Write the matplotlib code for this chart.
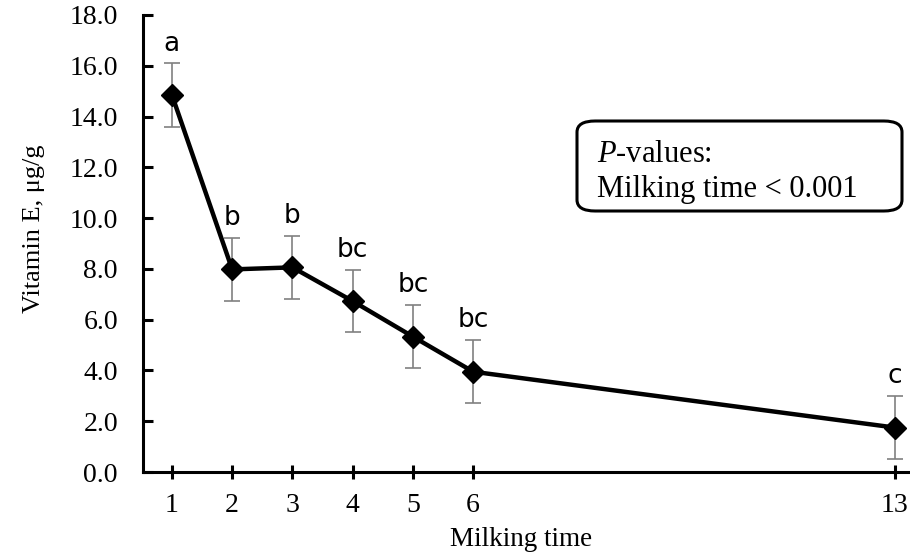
import matplotlib
matplotlib.use("Agg")
import matplotlib.pyplot as plt
from matplotlib.patches import FancyBboxPatch

milking_time = [1, 2, 3, 4, 5, 6, 13]
vitamin_e = [14.85, 7.98, 8.06, 6.73, 5.33, 3.95, 1.75]
se = [1.25, 1.24, 1.24, 1.23, 1.25, 1.25, 1.25]
letters = ["a", "b", "b", "bc", "bc", "bc", "c"]
y_ticks = [0, 2, 4, 6, 8, 10, 12, 14, 16, 18]

plt.rcParams['font.family'] = ['Liberation Serif', 'DejaVu Serif']
plt.rcParams['mathtext.fontset'] = 'custom'
plt.rcParams['mathtext.it'] = 'Liberation Serif:italic'
plt.rcParams['mathtext.rm'] = 'Liberation Serif'

fig = plt.figure(figsize=(9.10, 5.56), dpi=100)
ax = fig.add_axes([143/910, 84/556, (910-143)/910, (472-15)/556])

ax.errorbar(milking_time, vitamin_e, yerr=se, fmt='none', ecolor='#808080',
            elinewidth=1.2, capsize=6, capthick=1.2, zorder=2)
ax.plot(milking_time, vitamin_e, color='black', lw=3.2, marker='D',
        markersize=11, markerfacecolor='black', zorder=3)

for x, y, e, t in zip(milking_time, vitamin_e, se, letters):
    ax.text(x, y + e + 0.5, t, ha='center', va='baseline', fontsize=19,
            family=['DejaVu Sans'])

ax.set_xlim(0.52, 13.25)
ax.set_ylim(0, 18)
ax.set_xticks(milking_time)
ax.set_xticklabels([str(m) for m in milking_time])
ax.set_yticks(y_ticks)
ax.set_yticklabels([f"{v:.1f}" for v in y_ticks])

for s in ['top', 'right']:
    ax.spines[s].set_visible(False)
for s in ['left', 'bottom']:
    ax.spines[s].set_linewidth(2.2)
ax.tick_params(axis='y', direction='in', length=7, width=2.2, labelsize=20, pad=18)
ax.tick_params(axis='x', direction='inout', length=10, width=2.2, labelsize=20, pad=10)

ax.set_xlabel("Milking time", fontsize=19.5)
ax.set_ylabel("Vitamin E, μg/g", fontsize=19)
ax.xaxis.set_label_coords(0.493, -0.12)
ax.yaxis.set_label_coords(-0.128, 0.532)

box = FancyBboxPatch((577/910, (556-211)/556), (902-577)/910, (211-121)/556,
                     boxstyle="round,pad=0,rounding_size=0.02",
                     transform=fig.transFigure, fill=False, lw=2.2, ec='black')
fig.patches.append(box)
fig.text(597/910, 1-154/556, "$\\it{P}$-values:", fontsize=22, va='center', ha='left')
fig.text(597/910, 1-190/556, "Milking time < 0.001", fontsize=22, va='center', ha='left')

fig.savefig("out.png", dpi=100)
